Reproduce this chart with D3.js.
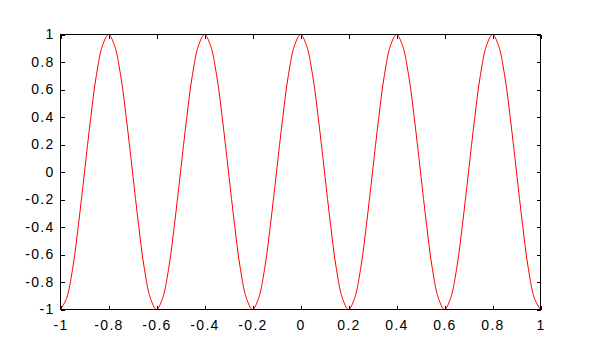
<!DOCTYPE html>
<head>
    <script src="https://d3js.org/d3.v7.min.js"></script>
    <style>
        body { margin: 0; background: #fff; }
        text { font-family: "Liberation Sans", Arial, sans-serif; }
    </style>
</head>
<body>
    <svg class="chart" height="344" width="600"></svg>
    <script>

        // tick values
        var xTicks = [-1, -0.8, -0.6, -0.4, -0.2, 0, 0.2, 0.4, 0.6, 0.8, 1]
        var yTicks = [-1, -0.8, -0.6, -0.4, -0.2, 0, 0.2, 0.4, 0.6, 0.8, 1]

        // x positions of the samples, every 0.025 from -1 to 1
        var xs = [-1, -0.975, -0.95, -0.925, -0.9, -0.875, -0.85, -0.825, -0.8,
            -0.775, -0.75, -0.725, -0.7, -0.675, -0.65, -0.625, -0.6,
            -0.575, -0.55, -0.525, -0.5, -0.475, -0.45, -0.425, -0.4,
            -0.375, -0.35, -0.325, -0.3, -0.275, -0.25, -0.225, -0.2,
            -0.175, -0.15, -0.125, -0.1, -0.075, -0.05, -0.025, 0,
            0.025, 0.05, 0.075, 0.1, 0.125, 0.15, 0.175, 0.2,
            0.225, 0.25, 0.275, 0.3, 0.325, 0.35, 0.375, 0.4,
            0.425, 0.45, 0.475, 0.5, 0.525, 0.55, 0.575, 0.6,
            0.625, 0.65, 0.675, 0.7, 0.725, 0.75, 0.775, 0.8,
            0.825, 0.85, 0.875, 0.9, 0.925, 0.95, 0.975, 1]

        // curve heights
        var ys = [-1, -0.92, -0.71, -0.38, 0, 0.38, 0.71, 0.92, 1,
            0.92, 0.71, 0.38, 0, -0.38, -0.71, -0.92, -1,
            -0.92, -0.71, -0.38, 0, 0.38, 0.71, 0.92, 1,
            0.92, 0.71, 0.38, 0, -0.38, -0.71, -0.92, -1,
            -0.92, -0.71, -0.38, 0, 0.38, 0.71, 0.92, 1,
            0.92, 0.71, 0.38, 0, -0.38, -0.71, -0.92, -1,
            -0.92, -0.71, -0.38, 0, 0.38, 0.71, 0.92, 1,
            0.92, 0.71, 0.38, 0, -0.38, -0.71, -0.92, -1,
            -0.92, -0.71, -0.38, 0, 0.38, 0.71, 0.92, 1,
            0.92, 0.71, 0.38, 0, -0.38, -0.71, -0.92, -1]

        var points = xs.map((x, i) => ({x: x, y: ys[i]}))

        // plot frame (window.top is taken, so prefix the names)
        var pLeft = 60.5, pRight = 540.5, pTop = 34.5, pBottom = 309.5

        var svg = d3.select("svg")

        var xScale = d3.scaleLinear()
        .domain([-1, 1])
        .range([pLeft, pRight])

        var yScale = d3.scaleLinear()
        .domain([-1, 1])
        .range([pBottom, pTop])

        var fmt = d => String(d)

        // ticks point inward on all four sides
        var xAxis = d3.axisBottom(xScale).tickValues(xTicks).tickFormat(fmt)
        .tickSizeInner(-4).tickSizeOuter(0).tickPadding(11)
        var yAxis = d3.axisLeft(yScale).tickValues(yTicks).tickFormat(fmt)
        .tickSizeInner(-4).tickSizeOuter(0).tickPadding(6)
        var xTop = d3.axisTop(xScale).tickValues(xTicks).tickFormat("")
        .tickSizeInner(-4).tickSizeOuter(0)
        var yRight = d3.axisRight(yScale).tickValues(yTicks).tickFormat("")
        .tickSizeInner(-4).tickSizeOuter(0)

        svg.append("g").attr("transform", `translate(0,${pBottom})`).call(xAxis)
        svg.append("g").attr("transform", `translate(${pLeft},0)`).call(yAxis)
        svg.append("g").attr("transform", `translate(0,${pTop})`).call(xTop)
        svg.append("g").attr("transform", `translate(${pRight},0)`).call(yRight)

        svg.selectAll(".domain").remove()
        svg.selectAll(".tick line").attr("stroke", "#000").attr("shape-rendering", "crispEdges")
        // the labels in the picture are set a little wider than plain Arial
        svg.selectAll(".tick text").attr("font-size", 14).attr("fill", "#000")
        .attr("font-family", "Liberation Sans, Arial, sans-serif")
        .attr("letter-spacing", 1.3)

        var line = d3.line()
        .x(d => xScale(d.x))
        .y(d => yScale(d.y))
        .curve(d3.curveCatmullRom)

        svg.append("path")
        .datum(points)
        .attr("d", line)
        .attr("fill", "none")
        .attr("stroke", "#ff0000")
        .attr("stroke-width", 1)

        // frame
        svg.append("rect")
        .attr("x", pLeft).attr("y", pTop)
        .attr("width", pRight - pLeft).attr("height", pBottom - pTop)
        .attr("fill", "none").attr("stroke", "#000")
        .attr("shape-rendering", "crispEdges")
    </script>
</body>
